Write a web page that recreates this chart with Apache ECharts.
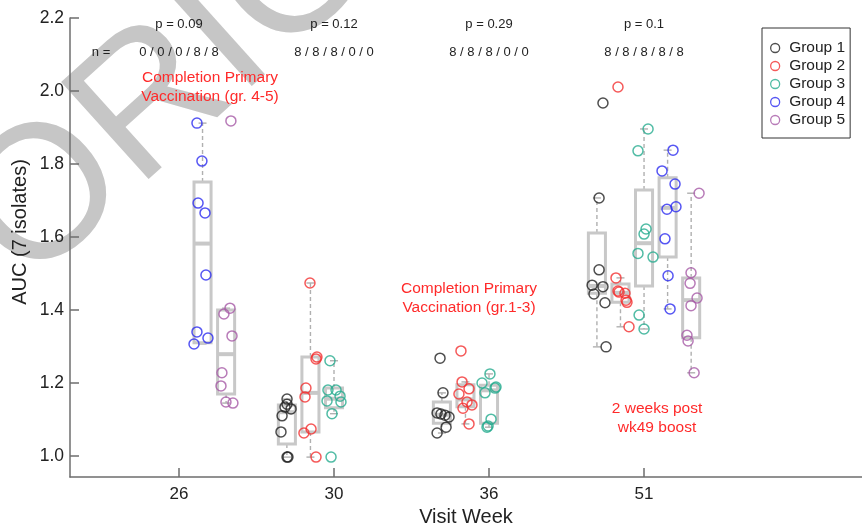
<!DOCTYPE html>
<html>
<head>
<meta charset="utf-8">
<script src="https://cdn.jsdelivr.net/npm/echarts@6/dist/echarts.min.js"></script>
<style>
  html, body { margin: 0; padding: 0; background: #fff; }
  #auc { width: 862px; height: 529px; }
</style>
</head>
<body>
<div id="auc"></div>
<script>
// visit weeks sit at positions 1..4 on the x axis
const weeks = ['26', '30', '36', '51']
const groupNames = ['Group 1', 'Group 2', 'Group 3', 'Group 4', 'Group 5']
const groupColors = ['#222222', '#f23030', '#26ab8e', '#2c2cf0', '#a65aa6']
const pLabels = ['p = 0.09', 'p = 0.12', 'p = 0.29', 'p = 0.1']
const nLabels = ['0 / 0 / 0 / 8 / 8', '8 / 8 / 8 / 0 / 0', '8 / 8 / 8 / 0 / 0', '8 / 8 / 8 / 8 / 8']
const yTicks = [1.0, 1.2, 1.4, 1.6, 1.8, 2.0, 2.2]

// box stats: [week position, lower whisker, Q1, median, Q3, upper whisker]
const boxG1 = [[2, 0.997, 1.033, 1.120, 1.140, 1.156], [3, 1.063, 1.090, 1.113, 1.148, 1.173], [4, 1.299, 1.446, 1.466, 1.611, 1.707]]
const boxG2 = [[2, 0.997, 1.066, 1.173, 1.271, 1.474], [3, 1.088, 1.135, 1.155, 1.195, 1.203], [4, 1.354, 1.421, 1.447, 1.471, 1.488]]
const boxG3 = [[2, 1.116, 1.132, 1.157, 1.186, 1.261], [3, 1.079, 1.090, 1.180, 1.194, 1.225], [4, 1.348, 1.466, 1.583, 1.729, 1.896]]
const boxG4 = [[1, 1.307, 1.310, 1.582, 1.751, 1.912], [4, 1.403, 1.545, 1.680, 1.762, 1.838]]
const boxG5 = [[1, 1.145, 1.170, 1.279, 1.400, 1.405], [4, 1.228, 1.324, 1.427, 1.488, 1.720]]

// isolates: [jittered week position, AUC]
const ptsG1 = [
  [1.697, 1.156], [1.697, 1.142], [1.684, 1.134], [1.723, 1.129], [1.665, 1.110], [1.658, 1.066], [1.697, 0.997], [1.703, 0.997],
  [2.684, 1.268], [2.703, 1.173], [2.665, 1.118], [2.690, 1.115], [2.716, 1.112], [2.742, 1.107], [2.723, 1.079], [2.665, 1.063],
  [3.735, 1.967], [3.710, 1.707], [3.710, 1.510], [3.665, 1.468], [3.735, 1.464], [3.677, 1.444], [3.748, 1.420], [3.755, 1.299]
]
const ptsG2 = [
  [1.845, 1.474], [1.890, 1.271], [1.884, 1.266], [1.819, 1.186], [1.813, 1.162], [1.852, 1.074], [1.806, 1.063], [1.884, 0.997],
  [2.819, 1.288], [2.826, 1.203], [2.871, 1.184], [2.806, 1.170], [2.858, 1.148], [2.890, 1.140], [2.832, 1.131], [2.871, 1.088],
  [3.832, 2.011], [3.819, 1.488], [3.832, 1.452], [3.839, 1.449], [3.877, 1.446], [3.884, 1.427], [3.890, 1.421], [3.903, 1.354]
]
const ptsG3 = [
  [1.974, 1.261], [1.961, 1.181], [2.013, 1.181], [2.039, 1.164], [1.955, 1.151], [2.045, 1.148], [1.987, 1.116], [1.981, 0.997],
  [3.006, 1.225], [2.955, 1.200], [3.045, 1.189], [3.039, 1.186], [2.974, 1.173], [3.013, 1.101], [2.994, 1.082], [2.987, 1.079],
  [4.026, 1.896], [3.961, 1.836], [4.013, 1.622], [4.000, 1.608], [3.961, 1.555], [4.058, 1.545], [3.968, 1.386], [4.000, 1.348]
]
const ptsG4 = [
  [1.116, 1.912], [1.148, 1.808], [1.123, 1.693], [1.168, 1.666], [1.174, 1.496], [1.116, 1.340], [1.187, 1.323], [1.097, 1.307],
  [4.187, 1.838], [4.116, 1.781], [4.200, 1.745], [4.148, 1.676], [4.206, 1.683], [4.135, 1.595], [4.155, 1.494], [4.168, 1.403]
]
const ptsG5 = [
  [1.335, 1.918], [1.329, 1.405], [1.290, 1.389], [1.342, 1.329], [1.277, 1.228], [1.271, 1.192], [1.303, 1.148], [1.348, 1.145],
  [4.355, 1.720], [4.303, 1.502], [4.297, 1.473], [4.342, 1.433], [4.303, 1.412], [4.277, 1.331], [4.284, 1.315], [4.323, 1.228]
]

const boxes = [boxG1, boxG2, boxG3, boxG4, boxG5]
const points = [ptsG1, ptsG2, ptsG3, ptsG4, ptsG5]

const FONT = 'Liberation Sans'
const GREY = '#c8c8c8'
const WHISK = '#b0b0b0'

const chart = echarts.init(document.getElementById('auc'), null, { renderer: 'canvas' })

// boxes are dodged: group 3 sits on the tick, others step 0.152 apart
function boxRenderer(g) {
  const offset = (g - 2) * 0.152
  return function (params, api) {
    const x = api.value(0) + offset
    const hw = api.size([0.055, 0])[0]
    const lo = api.coord([x, api.value(1)])
    const q1 = api.coord([x, api.value(2)])
    const md = api.coord([x, api.value(3)])
    const q3 = api.coord([x, api.value(4)])
    const hi = api.coord([x, api.value(5)])
    const cx = lo[0]
    const dash = { stroke: WHISK, lineWidth: 1.4, lineDash: [4, 3] }
    const cap = { stroke: WHISK, lineWidth: 1.4 }
    return {
      type: 'group',
      children: [
        { type: 'line', shape: { x1: cx, y1: q3[1], x2: cx, y2: hi[1] }, style: dash },
        { type: 'line', shape: { x1: cx, y1: q1[1], x2: cx, y2: lo[1] }, style: dash },
        { type: 'line', shape: { x1: cx - 4, y1: hi[1], x2: cx + 4, y2: hi[1] }, style: cap },
        { type: 'line', shape: { x1: cx - 4, y1: lo[1], x2: cx + 4, y2: lo[1] }, style: cap },
        {
          type: 'rect',
          shape: { x: cx - hw, y: q3[1], width: hw * 2, height: q1[1] - q3[1] },
          style: { fill: 'none', stroke: GREY, lineWidth: 3 }
        },
        { type: 'line', shape: { x1: cx - hw, y1: md[1], x2: cx + hw, y2: md[1] }, style: { stroke: GREY, lineWidth: 4 } }
      ]
    }
  }
}

const series = []
boxes.forEach((b, g) => {
  series.push({
    type: 'custom',
    name: 'box' + g,
    renderItem: boxRenderer(g),
    encode: { x: 0, y: [1, 2, 3, 4, 5] },
    data: b,
    z: 1,
    silent: true
  })
})
points.forEach((p, g) => {
  series.push({
    type: 'scatter',
    name: groupNames[g],
    data: p,
    symbol: 'circle',
    symbolSize: 10,
    itemStyle: { color: 'rgba(0,0,0,0)', borderColor: groupColors[g], borderWidth: 1.5 },
    z: 3
  })
})

const option = {
  animation: false,
  textStyle: { fontFamily: FONT },
  grid: { left: 70, right: 0, top: 18, bottom: 52, outerBoundsMode: 'none' },
  xAxis: {
    type: 'value',
    min: 0.297,
    max: 5.406,
    name: 'Visit Week',
    nameLocation: 'middle',
    nameGap: 30,
    nameTextStyle: { fontSize: 20, color: '#222', fontFamily: FONT },
    splitLine: { show: false },
    axisLine: { show: true, lineStyle: { color: '#6e6e6e', width: 1.5 } },
    axisTick: { show: true, inside: true, length: 9, customValues: [1, 2, 3, 4], lineStyle: { color: '#6e6e6e', width: 1.5 } },
    axisLabel: {
      customValues: [1, 2, 3, 4],
      formatter: v => weeks[Math.round(v) - 1],
      margin: 9,
      fontSize: 17,
      color: '#222',
      fontFamily: FONT
    }
  },
  yAxis: {
    type: 'value',
    min: 0.9425,
    max: 2.2,
    splitLine: { show: false },
    axisLine: { show: true, lineStyle: { color: '#6e6e6e', width: 1.5 } },
    axisTick: { show: true, inside: true, length: 9, customValues: yTicks, lineStyle: { color: '#6e6e6e', width: 1.5 } },
    axisLabel: {
      customValues: yTicks,
      formatter: v => v.toFixed(1),
      margin: 6,
      fontSize: 17.5,
      color: '#222',
      fontFamily: FONT
    }
  },
  legend: {
    orient: 'vertical',
    left: 762,
    top: 28,
    padding: [12, 5, 10, 8],
    itemWidth: 18,
    itemHeight: 9,
    itemGap: 2,
    borderColor: '#333',
    borderWidth: 1,
    textStyle: { fontSize: 15.5, color: '#222', fontFamily: FONT },
    data: groupNames.map((name, i) => ({
      name: name,
      icon: 'circle',
      itemStyle: { color: 'rgba(0,0,0,0)', borderColor: groupColors[i], borderWidth: 1.3 }
    }))
  },
  series: series
}

chart.setOption(option)

// annotations above each visit, centred on the week ticks
const small = { fontSize: 13, fill: '#222', fontFamily: FONT, align: 'center', verticalAlign: 'middle' }
const red = { fontSize: 15.5, fill: '#ff2a2a', fontFamily: FONT, align: 'center', verticalAlign: 'middle', lineHeight: 19 }
const graphics = [
  {
    type: 'group',
    x: 47,
    y: 200,
    rotation: 0.733,
    z: -10,
    children: [{
      type: 'text',
      x: -74,
      y: 0,
      z: -10,
      style: { text: 'ORIGINAL', fontSize: 190, fill: '#c6c6c6', fontFamily: FONT, align: 'left', verticalAlign: 'middle' }
    }]
  },
  {
    type: 'text',
    x: 20,
    y: 232,
    rotation: Math.PI / 2,
    style: { text: 'AUC (7 isolates)', fontSize: 20, fill: '#222', fontFamily: FONT, align: 'center', verticalAlign: 'middle' }
  },
  { type: 'text', x: 101, y: 52, style: Object.assign({ text: 'n =' }, small) },
  { type: 'text', x: 210, y: 87, style: Object.assign({ text: 'Completion Primary\nVaccination (gr. 4-5)' }, red) },
  { type: 'text', x: 469, y: 298, style: Object.assign({ text: 'Completion Primary\nVaccination (gr.1-3)' }, red) },
  { type: 'text', x: 657, y: 418, style: Object.assign({ text: '2 weeks post\nwk49 boost' }, red) }
]
weeks.forEach((w, i) => {
  const px = chart.convertToPixel({ gridIndex: 0 }, [i + 1, 2.2])[0]
  graphics.push({ type: 'text', x: px, y: 24, style: Object.assign({ text: pLabels[i] }, small) })
  graphics.push({ type: 'text', x: px, y: 52, style: Object.assign({ text: nLabels[i] }, small) })
})
chart.setOption({ graphic: graphics })
</script>
</body>
</html>
